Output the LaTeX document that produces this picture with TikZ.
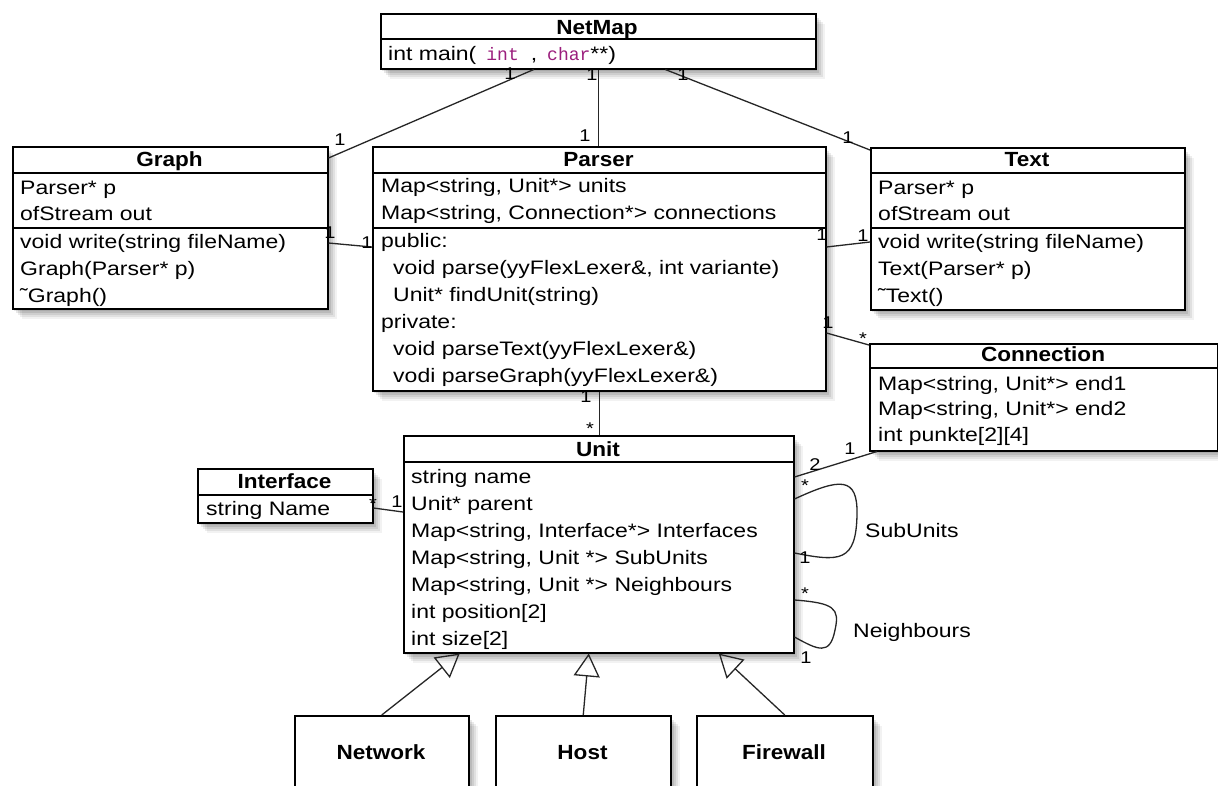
\documentclass[tikz,border=0pt]{standalone}
\usepackage{fontspec}
\setmainfont{Liberation Sans}
\newfontfamily\umlfont[FakeStretch=1.18]{Liberation Sans}
\newfontfamily\umlbold[FakeStretch=1.1]{Liberation Sans}
\newfontfamily\umlmono{Liberation Mono}
\usetikzlibrary{arrows.meta}
\definecolor{kw}{RGB}{155,30,125}
\tikzset{
  softshadow/.style={
    preaction={fill=black, fill opacity=.09, transform canvas={xshift=1pt,yshift=-2pt}},
    preaction={fill=black, fill opacity=.09, transform canvas={xshift=3pt,yshift=-4pt}},
    preaction={fill=black, fill opacity=.08, transform canvas={xshift=5pt,yshift=-6pt}},
    preaction={fill=black, fill opacity=.07, transform canvas={xshift=7pt,yshift=-8pt}},
    preaction={fill=black, fill opacity=.05, transform canvas={xshift=9pt,yshift=-10pt}}},
  cls/.style={draw=black, line width=1.5pt, fill=white, rectangle, inner sep=0pt, anchor=north west, softshadow},
  sepline/.style={line width=1.3pt},
  row/.style={anchor=base west, inner sep=0pt, font=\umlfont\fontsize{19.5}{22}\selectfont},
  ttl/.style={anchor=base, inner sep=0pt, font=\umlbold\bfseries\fontsize{20.5}{24}\selectfont},
  mult/.style={inner sep=0pt, font=\umlfont\fontsize{17}{20}\selectfont},
  assoc/.style={line width=1.3pt, draw=black!85},
  inherit/.style={line width=1.3pt, draw=black!85, -{Triangle[open, length=23pt, width=26pt]}}
}
\begin{document}
\begin{tikzpicture}[x=1pt,y=-1pt]
\clip (0,0) rectangle (1218,785);
\fill[white] (0,0) rectangle (1218,785);

% ---------- NetMap ----------
\node[cls, minimum width=435pt, minimum height=55pt] (netmap) at (380,13) {};
\draw[sepline] ([yshift=-26pt]netmap.north west) -- ([yshift=-26pt]netmap.north east);
\node[ttl] (netmapT) at (597,34) {NetMap};
\node[row] (nm1) at (388,60) {int main(\hspace{10pt}{\umlmono\fontsize{18}{20}\selectfont\color{kw}int}\hspace{12pt},\hspace{10pt}{\umlmono\fontsize{18}{20}\selectfont\color{kw}char}**)};

% ---------- Graph ----------
\node[cls, minimum width=315pt, minimum height=162pt] (graph) at (12,146) {};
\draw[sepline] ([yshift=-27pt]graph.north west) -- ([yshift=-27pt]graph.north east);
\draw[sepline] ([yshift=-82pt]graph.north west) -- ([yshift=-82pt]graph.north east);
\node[ttl] (graphT) at (169.5,166.5) {Graph};
\node[row] (g1) at (20,194) {Parser* p};
\node[row] (g2) at (20,220) {ofStream out};
\node[row] (g3) at (20,248) {void write(string fileName)};
\node[row] (g4) at (20,275) {Graph(Parser* p)};
\node[row] (g5) at (20,302) {˜Graph()};

% ---------- Parser ----------
\node[cls, minimum width=453pt, minimum height=244pt] (parser) at (372,146) {};
\draw[sepline] ([yshift=-27pt]parser.north west) -- ([yshift=-27pt]parser.north east);
\draw[sepline] ([yshift=-82pt]parser.north west) -- ([yshift=-82pt]parser.north east);
\node[ttl] (parserT) at (598.5,166) {Parser};
\node[row] (p1) at (381,192) {Map<string, Unit*> units};
\node[row] (p2) at (381,219) {Map<string, Connection*> connections};
\node[row] (p3) at (381,247) {public:};
\node[row] (p4) at (393,274) {void parse(yyFlexLexer\&, int variante)};
\node[row] (p5) at (393,301) {Unit* findUnit(string)};
\node[row] (p6) at (381,328) {private:};
\node[row] (p7) at (393,355) {void parseText(yyFlexLexer\&)};
\node[row] (p8) at (393,382) {vodi parseGraph(yyFlexLexer\&)};

% ---------- Text ----------
\node[cls, minimum width=314pt, minimum height=162pt] (text) at (870,147) {};
\draw[sepline] ([yshift=-26pt]text.north west) -- ([yshift=-26pt]text.north east);
\draw[sepline] ([yshift=-81pt]text.north west) -- ([yshift=-81pt]text.north east);
\node[ttl] (textT) at (1027,166.5) {Text};
\node[row] (t1) at (878,194) {Parser* p};
\node[row] (t2) at (878,220) {ofStream out};
\node[row] (t3) at (878,248) {void write(string fileName)};
\node[row] (t4) at (878,275) {Text(Parser* p)};
\node[row] (t5) at (878,302) {˜Text()};

% ---------- Connection ----------
\node[cls, minimum width=348pt, minimum height=107pt] (connection) at (869,343) {};
\draw[sepline] ([yshift=-25pt]connection.north west) -- ([yshift=-25pt]connection.north east);
\node[ttl] (connT) at (1043,361.5) {Connection};
\node[row] (c1) at (878,390) {Map<string, Unit*> end1};
\node[row] (c2) at (878,415) {Map<string, Unit*> end2};
\node[row] (c3) at (878,441) {int punkte[2][4]};

% ---------- Unit ----------
\node[cls, minimum width=390pt, minimum height=217pt] (unit) at (403,435) {};
\draw[sepline] ([yshift=-27pt]unit.north west) -- ([yshift=-27pt]unit.north east);
\node[ttl] (unitT) at (598,456) {Unit};
\node[row] (u1) at (411,483) {string name};
\node[row] (u2) at (411,510) {Unit* parent};
\node[row] (u3) at (411,537) {Map<string, Interface*> Interfaces};
\node[row] (u4) at (411,564) {Map<string, Unit *> SubUnits};
\node[row] (u5) at (411,591) {Map<string, Unit *> Neighbours};
\node[row] (u6) at (411,618) {int position[2]};
\node[row] (u7) at (411,645) {int size[2]};

% ---------- Interface ----------
\node[cls, minimum width=175pt, minimum height=54pt] (interface) at (197,468) {};
\draw[sepline] ([yshift=-27pt]interface.north west) -- ([yshift=-27pt]interface.north east);
\node[ttl] (ifT) at (284.5,488) {Interface};
\node[row] (i1) at (206,515) {string Name};

% ---------- Subclasses ----------
\node[cls, minimum width=174pt, minimum height=100pt] (network) at (294,715) {};
\node[cls, minimum width=175pt, minimum height=100pt] (host) at (495,715) {};
\node[cls, minimum width=176pt, minimum height=100pt] (firewall) at (696,715) {};
\node[ttl] (networkT) at (381,759) {Network};
\node[ttl] (hostT) at (582.5,759) {Host};
\node[ttl] (firewallT) at (784,759) {Firewall};

% ---------- Associations ----------
\draw[assoc] ([xshift=-64.5pt]netmap.south) -- ([yshift=-12pt]graph.north east);
\draw[assoc] (netmap.south) -- (netmap.south |- parser.north);
\draw[assoc] ([xshift=67pt]netmap.south) -- ([yshift=-3pt]text.north west);
\draw[assoc] ([yshift=-97pt]graph.north east) -- ([yshift=-101pt]parser.north west);
\draw[assoc] ([yshift=-101pt]parser.north east) -- ([yshift=-95pt]text.north west);
\draw[assoc] ([yshift=-187pt]parser.north east) -- ([yshift=-2pt]connection.north west);
\draw[assoc] (parser.south) -- (parser.south |- unit.north);
\draw[assoc] ([xshift=8pt]connection.south west) -- ([yshift=-42pt]unit.north east);
\draw[assoc] ([yshift=-40pt]interface.north east) -- ([yshift=-77pt]unit.north west);
% self associations
\draw[assoc] ([yshift=-64pt]unit.north east) .. controls (840,478) and (858,476) .. (857,515)
   .. controls (856,562) and (840,562) .. ([yshift=-118pt]unit.north east);
\draw[assoc] ([yshift=-165pt]unit.north east) .. controls (834,603) and (840,608) .. (835,630)
   .. controls (830,656) and (818,650) .. ([yshift=-202pt]unit.north east);
\node[row] (subL) at (865,537) {SubUnits};
\node[row] (neiL) at (853,637) {Neighbours};

% ---------- Inheritance ----------
\draw[inherit] (network.north) -- ([xshift=-139pt]unit.south);
\draw[inherit] (host.north) -- ([xshift=-10pt]unit.south);
\draw[inherit] (firewall.north) -- ([xshift=120pt]unit.south);

% ---------- Multiplicities ----------
\node[mult] (m1) at (510,74) {1};
\node[mult] (m2) at (340,140) {1};
\node[mult] (m3) at (592,75) {1};
\node[mult] (m4) at (585,136) {1};
\node[mult] (m5) at (683,75) {1};
\node[mult] (m6) at (848,138) {1};
\node[mult] (m7) at (330,233) {1};
\node[mult] (m8) at (367,243) {1};
\node[mult] (m9) at (822,235) {1};
\node[mult] (m10) at (863,236) {1};
\node[mult] (m11) at (828,323) {1};
\node[mult] (m12) at (863,339) {*};
\node[mult] (m13) at (586,397) {1};
\node[mult] (m14) at (590,429) {*};
\node[mult] (m15) at (850,449) {1};
\node[mult] (m16) at (815,465) {2};
\node[mult] (m17) at (805,486) {*};
\node[mult] (m18) at (373,504) {*};
\node[mult] (m19) at (397,502) {1};
\node[mult] (m20) at (805,558) {1};
\node[mult] (m21) at (805,594) {*};
\node[mult] (m22) at (806,658) {1};
\end{tikzpicture}
\end{document}
